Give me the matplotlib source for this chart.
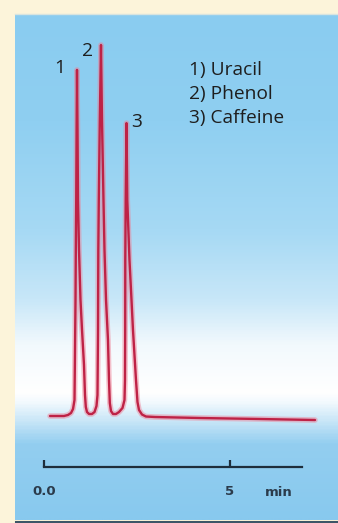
import numpy as np
import matplotlib.pyplot as plt
from matplotlib.colors import LinearSegmentedColormap
from matplotlib.lines import Line2D

# chromatogram trace (time in min, relative response)
trace_t = [0.161, 0.538, 0.645, 0.726, 0.780, 0.820, 0.839, 0.847, 0.855,
           0.866, 0.876, 0.887,
           0.901, 0.914, 0.941, 0.981, 1.022, 1.075, 1.102, 1.124, 1.156,
           1.210, 1.290, 1.358, 1.411, 1.438, 1.452, 1.460, 1.473, 1.500,
           1.532,
           1.559, 1.599, 1.626, 1.667, 1.720, 1.747, 1.769, 1.801, 1.855,
           1.935, 2.016, 2.110, 2.164, 2.177, 2.183, 2.185, 2.196,
           2.218,
           2.239, 2.298, 2.352, 2.392, 2.473, 2.513, 2.554, 2.634, 2.742,
           2.984, 4.194, 5.806, 7.285]
trace_y = [0.27, 0.27, 0.54, 1.08, 2.15, 4.57, 23.4, 31.5, 44.9,
           58.3, 77.2, 93.3,
           77.2, 58.3, 44.9, 31.5, 23.4, 14.0, 5.9, 2.69, 1.34,
           0.81, 0.81, 1.34, 2.96, 5.9, 23.4, 44.9, 58.3, 79.8,
           100.0,
           79.8, 58.3, 44.9, 31.5, 20.7, 9.9, 3.76, 1.61, 0.81,
           0.81, 1.34, 2.42, 4.57, 9.9, 23.4, 42.2, 58.3,
           79.0,
           58.3, 42.2, 31.5, 23.4, 9.9, 4.03, 1.88, 0.67, 0.13,
           0.0, -0.27, -0.54, -0.81]

peak_labels = ['1', '2', '3']
peak_t = [0.887, 1.532, 2.218]
peak_y = [93.3, 100.0, 79.0]
compounds = ['1) Uracil', '2) Phenol', '3) Caffeine']
tick_vals = [0, 5]
tick_text = ['0.0', '5']

W, H = 338, 523
fig = plt.figure(figsize=(W / 100, H / 100), dpi=100)
fig.patch.set_facecolor('#FCF4DA')

# blue panel with the white band near the baseline
bg = fig.add_axes([15 / W, 3 / H, (W - 15) / W, (520 - 14) / H])
stops_y = [14, 120, 230, 300, 345, 393, 402, 420, 445, 520]
stops_c = ['#8ACCF0', '#8FCFF1', '#A6D9F4', '#C8E7F8', '#F2F9FD',
           '#FFFFFF', '#F4FAFE', '#CDE8F8', '#93CEF0', '#88C9EE']
cmap = LinearSegmentedColormap.from_list(
    'panel', list(zip([(s - 14) / (520 - 14) for s in stops_y], stops_c)))
grad = np.linspace(0, 1, 400).reshape(-1, 1)
bg.imshow(grad, aspect='auto', cmap=cmap, extent=[0, 1, 0, 1], origin='upper')
bg.axis('off')
fig.add_artist(Line2D([16 / W, 1], [1.5 / H, 1.5 / H], color='#3D5566', lw=2.2))
fig.add_artist(Line2D([15 / W, 1], [1 - 14 / H, 1 - 14 / H], color='#D8E4E0', lw=1.0))

# trace axes
ax = fig.add_axes([0, 0, 1, 1])
ax.patch.set_alpha(0)
ax.set_xlim(-44 / 37.2, (W - 44) / 37.2)
ax.set_ylim((417 - H) / 3.72, 417 / 3.72)
ax.axis('off')
ax.plot(trace_t, trace_y, color='#F07A90', lw=4.0, alpha=0.45,
        solid_joinstyle='round', solid_capstyle='round')
ax.plot(trace_t, trace_y, color='#BE2246', lw=1.7,
        solid_joinstyle='round', solid_capstyle='round')

offsets = [(-12.5, 1.4), (-9.4, -4.3), (7.5, 0.7)]
for lab, t, y, off in zip(peak_labels, peak_t, peak_y, offsets):
    ax.annotate(lab, (t, y), xytext=off, textcoords='offset points',
                ha='center', va='center', fontsize=13.8, family='Open Sans',
                color='#1E1E1E')

for i, name in enumerate(compounds):
    fig.text(189 / W, 1 - (70 + 24 * i) / H, name, ha='left', va='center',
             fontsize=13.8, family='Open Sans', color='#1E1E1E')

# time axis
ax2 = fig.add_axes([44 / W, 1 - 467 / H, (302 - 44) / W, 0.02])
ax2.patch.set_alpha(0)
ax2.set_xlim(0, (302 - 44) / 37.2)
for s in ['left', 'right', 'top']:
    ax2.spines[s].set_visible(False)
ax2.spines['bottom'].set_color('#1E2E3C')
ax2.spines['bottom'].set_linewidth(1.6)
ax2.set_yticks([])
ax2.set_xticks(tick_vals)
ax2.set_xticklabels(tick_text, fontweight='bold', fontsize=9.5, color='#2B3B4B')
ax2.tick_params(axis='x', direction='in', length=5, width=1.6,
                color='#1E2E3C', pad=13)
fig.text(279 / W, 1 - 493 / H, 'min', ha='center', va='center',
         fontsize=9.5, fontweight='bold', color='#2B3B4B')

fig.savefig('out.png', dpi=100, facecolor=fig.get_facecolor())
